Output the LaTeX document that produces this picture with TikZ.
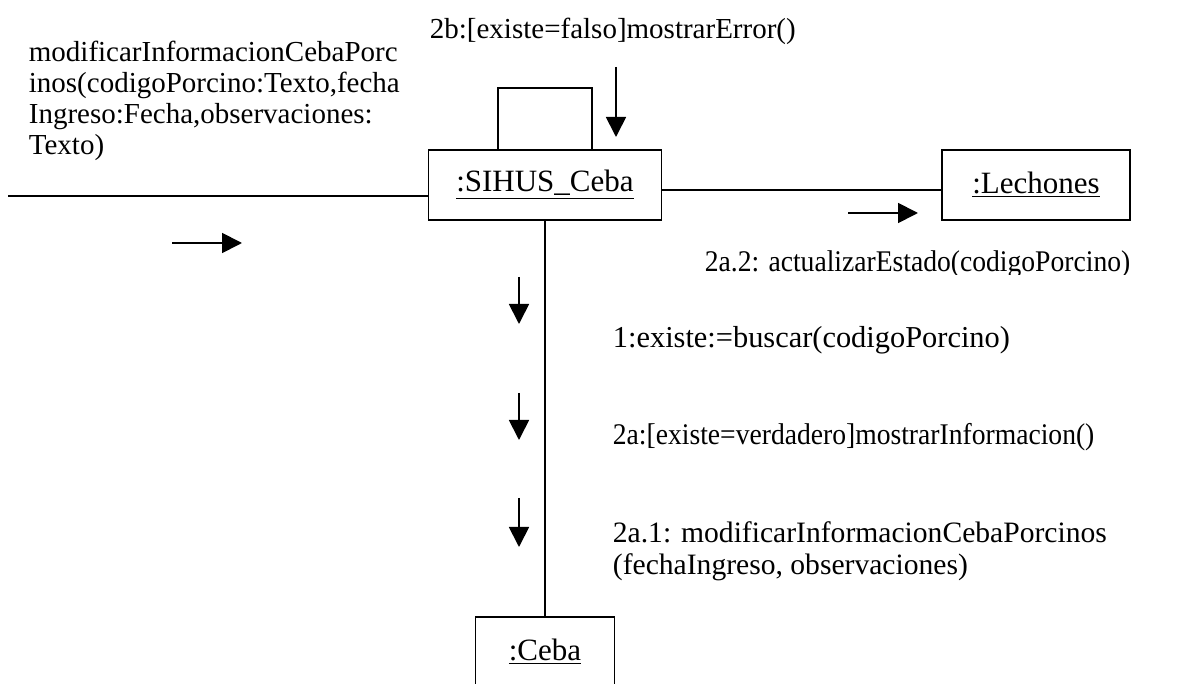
\documentclass[tikz,border=0pt]{standalone}
\usepackage{fontspec}
\setmainfont{Liberation Serif}
\usetikzlibrary{arrows.meta}

\begin{document}
\begin{tikzpicture}[x=0.5pt,y=-0.5pt,line width=0.9pt,
  obj/.style={draw,minimum height=35pt,inner sep=0pt,
    font=\fontsize{15.5}{17}\selectfont},
  lbl/.style={anchor=west,inner sep=0pt,align=left,
    font=\fontsize{14.5}{15.5}\selectfont},
  msg/.style={-{Triangle[length=10pt,width=10pt]}}]
\useasboundingbox (0,0) rectangle (1180,684);
\clip (0,0) rectangle (1180,684);
% objects
\node[obj,minimum width=116.5pt] (sc) at (545,185) {\underline{:SIHUS\_Ceba}};
\node[obj,minimum width=94pt]    (lc) at (1036,185) {\underline{:Lechones}};
\node[obj,minimum width=69.5pt]  (cb) at (545,652) {\underline{:Ceba}};
% links
\coordinate (act) at (8,196);
\draw (act) -- (act -| sc.west);
\draw (sc.east |- 0,190) -- (lc.west |- 0,190);
\draw (sc.south) -- (cb.north);
% self link
\coordinate (s1) at (498,150);
\coordinate (s2) at (592,150);
\draw (s1) -- ++(0,-62) -| (s2);
% message arrows
\coordinate (m0a) at (172,243);  \coordinate (m0b) at (242,243);
\coordinate (m2ba) at (616,67);  \coordinate (m2bb) at (616,137);
\coordinate (m22a) at (848,213); \coordinate (m22b) at (918,213);
\coordinate (m1a) at (519,277);  \coordinate (m1b) at (519,324);
\coordinate (m2aa) at (519,393); \coordinate (m2ab) at (519,440);
\coordinate (m21a) at (519,498); \coordinate (m21b) at (519,547);
\draw[msg] (m0a) -- (m0b);
\draw[msg] (m2ba) -- (m2bb);
\draw[msg] (m22a) -- (m22b);
\draw[msg] (m1a) -- (m1b);
\draw[msg] (m2aa) -- (m2ab);
\draw[msg] (m21a) -- (m21b);
% message labels
\node[lbl] (t0) at (28,101) {modificarInformacionCebaPorc\\
  inos(codigoPorcino:Texto,fecha\\
  Ingreso:Fecha,observaciones:\\
  Texto)};
\node[lbl] (t2b) at (429,31) {2b:[existe=falso]mostrarError()};
\begin{scope}
  \clip (690,240) rectangle (1180,275);
  \node[lbl,font=\fontsize{15}{16}\selectfont] (t22) at (704,264)
    {\scalebox{0.92}[1]{2a.2: actualizarEstado(codigoPorcino)}};
\end{scope}
\node[lbl,font=\fontsize{15.2}{17}\selectfont] (t1) at (612,340)
  {1:existe:=buscar(codigoPorcino)};
\node[lbl,font=\fontsize{15}{16}\selectfont] (t2a) at (612,437)
  {\scalebox{0.92}[1]{2a:[existe=verdadero]mostrarInformacion()}};
\node[lbl,font=\fontsize{14.8}{15.8}\selectfont] (t21) at (612,551)
  {2a.1: modificarInformacionCebaPorcinos\\
  (fechaIngreso, observaciones)};
\end{tikzpicture}
\end{document}
